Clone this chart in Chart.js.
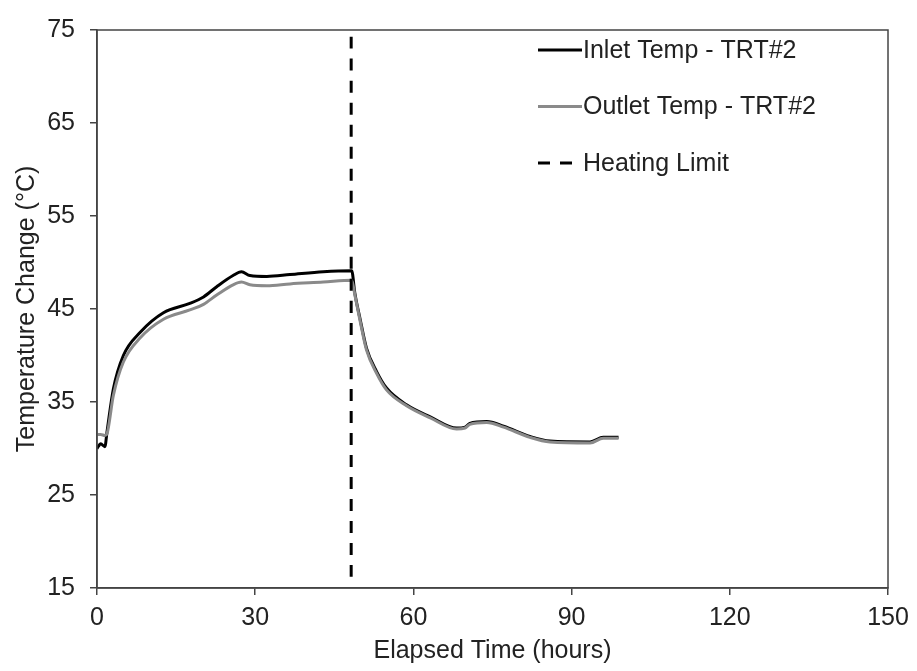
<!DOCTYPE html>
<html>
<head>
<meta charset="utf-8">
<script src="https://cdn.jsdelivr.net/npm/chart.js@4/dist/chart.umd.min.js"></script>
<style>
  html, body { margin: 0; padding: 0; background: #fff; }
  #wrap { width: 917px; height: 671px; }
</style>
</head>
<body>
<div id="wrap"><canvas id="trt"></canvas></div>
<script>
const hours = [0, 0.7, 1.5, 1.9, 3.1, 5.0, 8.2, 12.6, 17.6, 20.2, 22.7, 25.8, 27.4, 29.0, 32.2, 36.6, 42.9, 48.3,
  48.9, 49.9, 51.1, 53.0, 54.9, 58.7, 63.2, 68.2, 69.8, 70.7, 73.9, 77.1, 82.1, 85.9, 93.5, 96.0, 98.9];
const inletTemp = [30.0, 30.5, 30.2, 31.8, 36.4, 40.0, 42.5, 44.6, 45.6, 46.3, 47.4, 48.6, 49.0, 48.6, 48.5, 48.7, 49.0, 49.1,
  46.7, 43.9, 40.8, 38.3, 36.5, 34.7, 33.4, 32.2, 32.3, 32.7, 32.9, 32.4, 31.3, 30.8, 30.7, 31.2, 31.2];
const outletTemp = [31.5, 31.5, 31.4, 31.6, 35.7, 39.3, 41.9, 43.9, 44.9, 45.5, 46.5, 47.6, 47.9, 47.6, 47.5, 47.7, 47.9, 48.1,
  46.5, 43.7, 40.6, 38.1, 36.3, 34.6, 33.3, 32.1, 32.2, 32.6, 32.8, 32.3, 31.2, 30.7, 30.6, 31.1, 31.1];
const limitHours = [48.2, 48.2];
const limitTemp = [16.2, 75];
const xTicks = [0, 30, 60, 90, 120, 150];
const yTicks = [15, 25, 35, 45, 55, 65, 75];

const font = "'Liberation Sans', Arial, sans-serif";
const ink = '#222';
const frame = '#444';

function pts(xs, ys) {
  return xs.map((x, i) => ({ x: x, y: ys[i] }));
}

// box round the plot area
const boxPlugin = {
  id: 'box',
  afterDraw(chart) {
    const a = chart.chartArea, ctx = chart.ctx;
    ctx.save();
    ctx.strokeStyle = frame;
    ctx.lineWidth = 1.5;
    ctx.strokeRect(a.left, a.top, a.right - a.left, a.bottom - a.top);
    ctx.restore();
  }
};

// legend drawn inside the plot, top right
const legendPlugin = {
  id: 'innerLegend',
  afterDraw(chart) {
    const ctx = chart.ctx;
    const x0 = 538, len = 44, y0 = 50, step = 56.5;
    ctx.save();
    ctx.font = '25px ' + font;
    ctx.textBaseline = 'middle';
    ctx.fillStyle = ink;
    chart.data.datasets.forEach((ds, i) => {
      const y = y0 + i * step;
      ctx.beginPath();
      ctx.strokeStyle = ds.borderColor;
      ctx.lineWidth = ds.borderWidth;
      ctx.setLineDash(ds.borderDash || []);
      ctx.moveTo(x0, y);
      ctx.lineTo(x0 + len, y);
      ctx.stroke();
      ctx.fillText(ds.label, x0 + len + 1, y + 1);
    });
    ctx.restore();
  }
};

new Chart(document.getElementById('trt'), {
  type: 'line',
  data: {
    datasets: [
      {
        label: 'Inlet Temp - TRT#2',
        data: pts(hours, inletTemp),
        borderColor: '#000',
        borderWidth: 3,
        order: 2
      },
      {
        label: 'Outlet Temp - TRT#2',
        data: pts(hours, outletTemp),
        borderColor: '#8a8a8a',
        borderWidth: 3,
        order: 1
      },
      {
        label: 'Heating Limit',
        data: pts(limitHours, limitTemp),
        borderColor: '#000',
        borderWidth: 3,
        borderDash: [12, 10],
        order: 0
      }
    ]
  },
  options: {
    responsive: true,
    maintainAspectRatio: false,
    animation: false,
    layout: { padding: { top: 24, right: 29, left: 0, bottom: 0 } },
    elements: {
      point: { radius: 0, hoverRadius: 0 },
      line: { cubicInterpolationMode: 'monotone', fill: false }
    },
    plugins: {
      legend: { display: false },
      tooltip: { enabled: false }
    },
    scales: {
      x: {
        type: 'linear',
        min: 0,
        max: 150,
        afterBuildTicks: s => { s.ticks = xTicks.map(v => ({ value: v })); },
        afterFit: s => { s.height = 83; },
        grid: { drawOnChartArea: false, drawTicks: true, tickLength: 7, color: frame, lineWidth: 1.5 },
        border: { color: frame, width: 1.5 },
        ticks: { color: ink, font: { family: font, size: 25 }, padding: 8, maxRotation: 0 },
        title: {
          display: true,
          text: 'Elapsed Time (hours)',
          color: ink,
          font: { family: font, size: 25 },
          padding: { top: 0, bottom: 5 }
        }
      },
      y: {
        min: 15,
        max: 75,
        afterBuildTicks: s => { s.ticks = yTicks.map(v => ({ value: v })); },
        afterFit: s => { s.width = 97; },
        grid: { drawOnChartArea: false, drawTicks: true, tickLength: 7, color: frame, lineWidth: 1.5 },
        border: { color: frame, width: 1.5 },
        ticks: { color: ink, font: { family: font, size: 25 }, padding: 15 },
        title: {
          display: true,
          text: 'Temperature Change (°C)',
          color: ink,
          font: { family: font, size: 25 },
          padding: { top: 12, bottom: 0 }
        }
      }
    }
  },
  plugins: [boxPlugin, legendPlugin]
});
</script>
</body>
</html>
